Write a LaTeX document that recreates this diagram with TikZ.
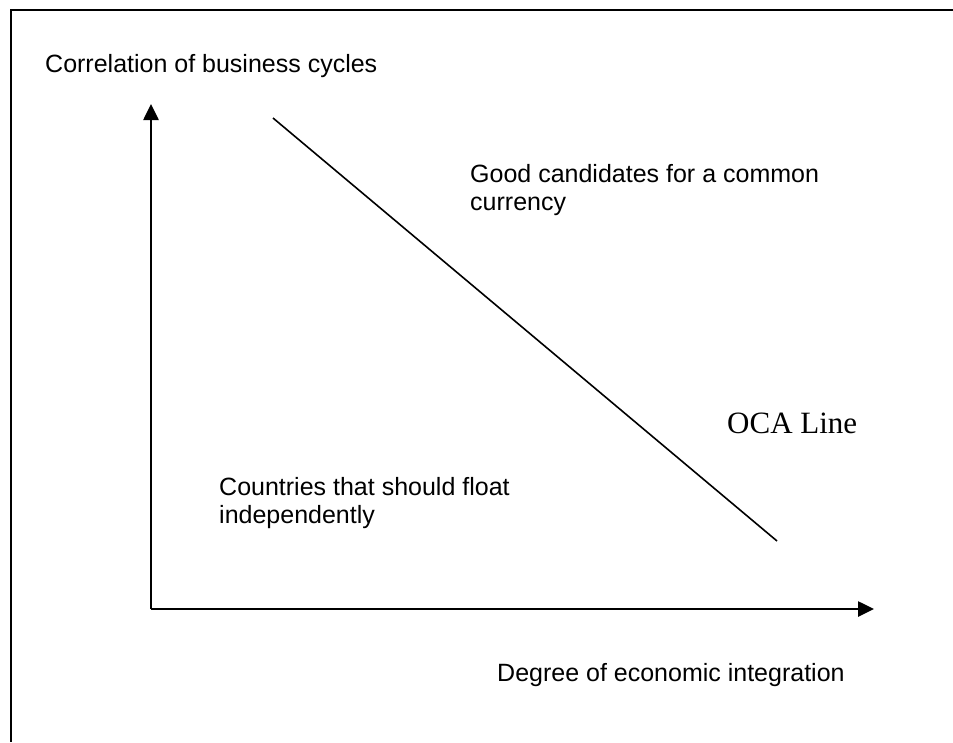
\documentclass[tikz,border=0pt]{standalone}
\usepackage{fontspec}
\setmainfont{Liberation Sans}
\newfontfamily\timesfont{Liberation Serif}
\usetikzlibrary{arrows.meta}
\tikzset{
  frameline/.style={line width=2pt, black},
  axisline/.style={line width=2.6pt, black, -{Triangle[length=16pt,width=15pt]}},
  ocaline/.style={line width=1.6pt, black},
  label/.style={inner sep=0pt, anchor=base west, font=\fontsize{25}{28}\selectfont, align=left},
  ocalabel/.style={inner sep=0pt, anchor=base west, font=\timesfont\fontsize{31}{34}\selectfont},
}
\begin{document}
\begin{tikzpicture}[x=1pt,y=-1pt]
\useasboundingbox (0,0) rectangle (953,742);
% frame (top and left only)
\coordinate (ftr) at (953,10);
\coordinate (ftl) at (11,10);
\coordinate (fbl) at (11,742);
\draw[frameline] (ftr) -- (ftl) -- (fbl);
% axes
\coordinate (origin) at (151,609);
\coordinate (ytip) at (151,104);
\coordinate (xtip) at (874,609);
\draw[axisline] (origin) -- (ytip);
\draw[axisline] (origin) -- (xtip);
% OCA line
\coordinate (ocaA) at (273,118);
\coordinate (ocaB) at (777,541);
\draw[ocaline] (ocaA) -- (ocaB);
% labels (base anchor = baseline of the last line)
\node[label] (ylab) at (45,72) {Correlation of business cycles};
\node[label] (good) at (470,210) {Good candidates for a common\\currency};
\node[ocalabel] (oca) at (727,433) {OCA Line};
\node[label] (float) at (219,523) {Countries that should float\\independently};
\node[label] (xlab) at (497,681) {Degree of economic integration};
\end{tikzpicture}
\end{document}
